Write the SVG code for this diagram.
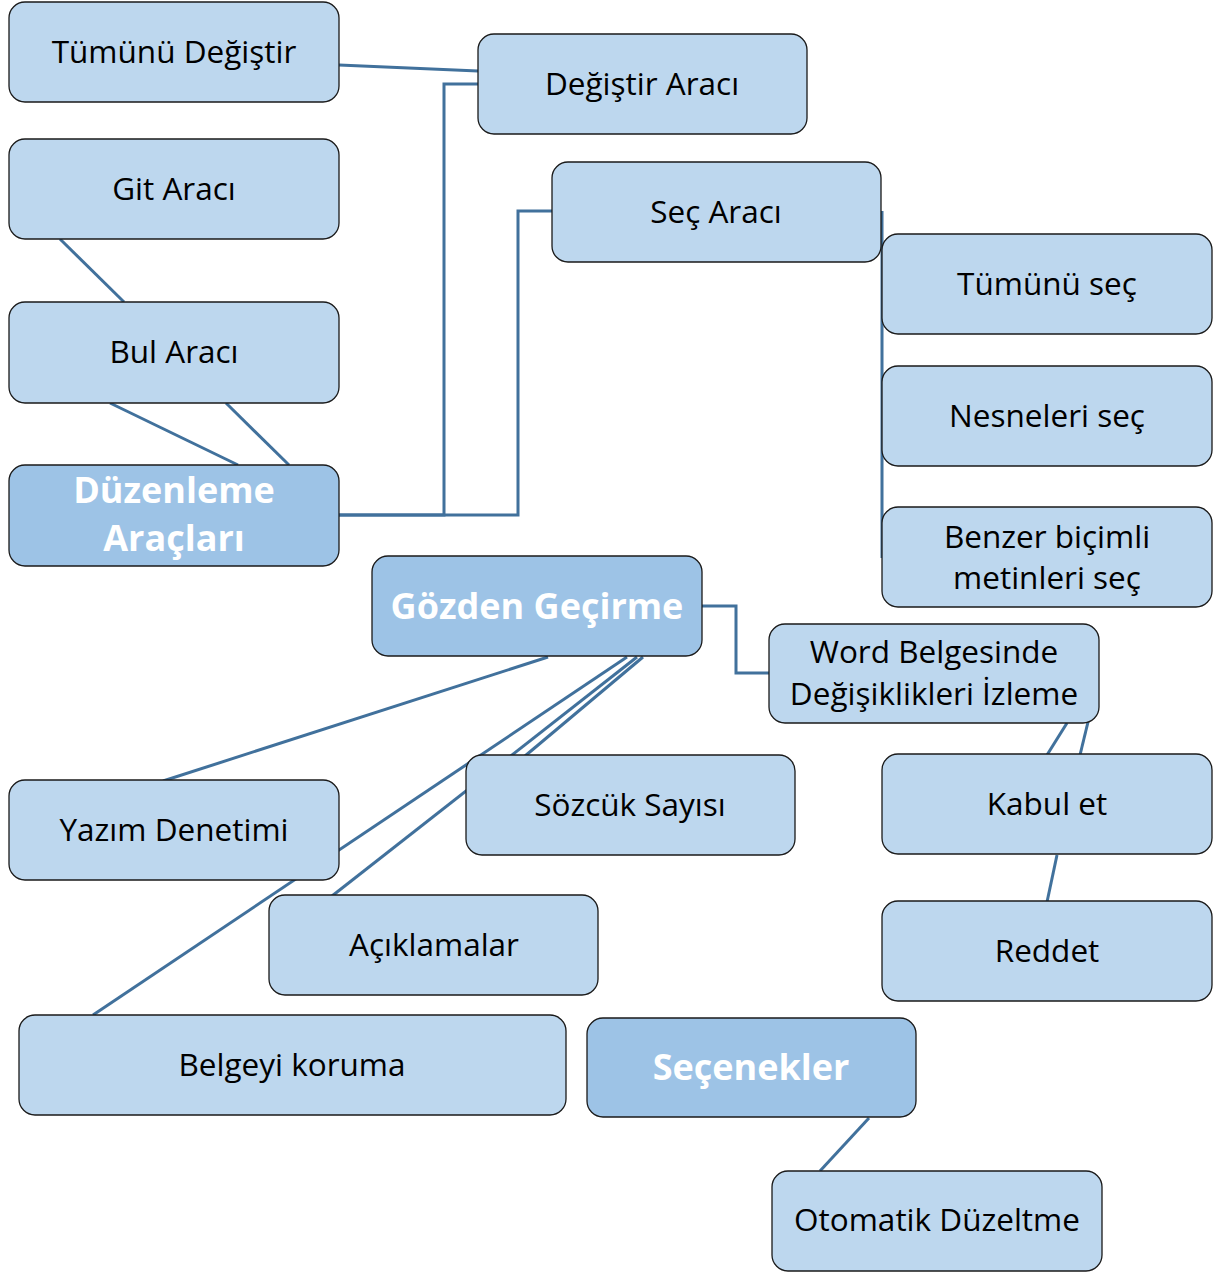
<svg xmlns="http://www.w3.org/2000/svg" width="1224" height="1273" viewBox="0 0 1224 1273">
<style>
.n{fill:#bdd7ee;stroke:#1a1a1a;stroke-width:1.3}
.h{fill:#9dc3e6;stroke:#1a1a1a;stroke-width:1.3}
.t{font-family:"Open Sans","Liberation Sans",sans-serif;font-size:31.5px;fill:#000;text-anchor:middle}
.b{font-family:"Open Sans","Liberation Sans",sans-serif;font-size:36px;font-weight:bold;fill:#fff;text-anchor:middle}
.c line,.c polyline{stroke:#41719c;stroke-width:3;fill:none}
</style>
<rect width="1224" height="1273" fill="#fff"/>
<g class="c" id="connectors">
<line x1="339" y1="65" x2="478" y2="71"/>
<polyline points="339,515 444,515 444,84 478,84"/>
<polyline points="339,515 518,515 518,211 552,211"/>
<line x1="60" y1="239" x2="124" y2="302"/>
<line x1="110" y1="403" x2="238" y2="465"/>
<line x1="226" y1="403" x2="289" y2="465"/>
<line x1="882" y1="211" x2="882" y2="558"/>
<polyline points="702,606 736,606 736,673 769,673"/>
<line x1="1067" y1="723" x2="1047" y2="755"/>
<line x1="1088" y1="722" x2="1080" y2="755"/>
<line x1="1057" y1="855" x2="1047" y2="902"/>
<line x1="548" y1="657" x2="163" y2="781"/>
<line x1="627" y1="657" x2="93" y2="1015"/>
<line x1="637" y1="657" x2="332" y2="896"/>
<line x1="643" y1="657" x2="525" y2="756"/>
<line x1="869" y1="1118" x2="820" y2="1171"/>
</g>
<g id="n1"><rect class="n" x="9" y="2" width="330" height="100" rx="16"/><text class="t" x="174" y="63">Tümünü Değiştir</text></g>
<g id="n2"><rect class="n" x="478" y="34" width="329" height="100" rx="16"/><text class="t" x="642" y="95">Değiştir Aracı</text></g>
<g id="n3"><rect class="n" x="9" y="139" width="330" height="100" rx="16"/><text class="t" x="174" y="200">Git Aracı</text></g>
<g id="n4"><rect class="n" x="9" y="302" width="330" height="101" rx="16"/><text class="t" x="174" y="363">Bul Aracı</text></g>
<g id="n5"><rect class="h" x="9" y="465" width="330" height="101" rx="16"/><text class="b" x="174" y="503">Düzenleme</text><text class="b" x="174" y="551">Araçları</text></g>
<g id="n6"><rect class="n" x="552" y="162" width="329" height="100" rx="16"/><text class="t" x="716" y="223">Seç Aracı</text></g>
<g id="n7"><rect class="n" x="882" y="234" width="330" height="100" rx="16"/><text class="t" x="1047" y="295">Tümünü seç</text></g>
<g id="n8"><rect class="n" x="882" y="366" width="330" height="100" rx="16"/><text class="t" x="1047" y="427">Nesneleri seç</text></g>
<g id="n9"><rect class="n" x="882" y="507" width="330" height="100" rx="16"/><text class="t" x="1047" y="548">Benzer biçimli</text><text class="t" x="1047" y="589">metinleri seç</text></g>
<g id="n10"><rect class="h" x="372" y="556" width="330" height="100" rx="16"/><text class="b" x="537" y="619">Gözden Geçirme</text></g>
<g id="n11"><rect class="n" x="769" y="624" width="330" height="99" rx="16"/><text class="t" x="934" y="663">Word Belgesinde</text><text class="t" x="934" y="705">Değişiklikleri İzleme</text></g>
<g id="n12"><rect class="n" x="9" y="780" width="330" height="100" rx="16"/><text class="t" x="174" y="841">Yazım Denetimi</text></g>
<g id="n13"><rect class="n" x="466" y="755" width="329" height="100" rx="16"/><text class="t" x="630" y="816">Sözcük Sayısı</text></g>
<g id="n14"><rect class="n" x="882" y="754" width="330" height="100" rx="16"/><text class="t" x="1047" y="815">Kabul et</text></g>
<g id="n15"><rect class="n" x="269" y="895" width="329" height="100" rx="16"/><text class="t" x="434" y="956">Açıklamalar</text></g>
<g id="n16"><rect class="n" x="882" y="901" width="330" height="100" rx="16"/><text class="t" x="1047" y="962">Reddet</text></g>
<g id="n17"><rect class="n" x="19" y="1015" width="547" height="100" rx="16"/><text class="t" x="292" y="1076">Belgeyi koruma</text></g>
<g id="n18"><rect class="h" x="587" y="1018" width="329" height="99" rx="16"/><text class="b" x="751" y="1080">Seçenekler</text></g>
<g id="n19"><rect class="n" x="772" y="1171" width="330" height="100" rx="16"/><text class="t" x="937" y="1231">Otomatik Düzeltme</text></g>
</svg>
